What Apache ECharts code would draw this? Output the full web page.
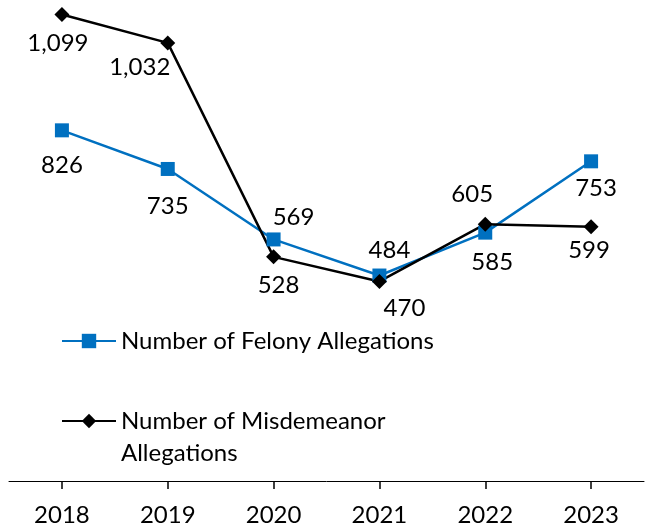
<!DOCTYPE html>
<html>
<head>
<meta charset="UTF-8">
<title></title>
<style>html,body{margin:0;padding:0;background:#fff;}</style>
</head>
<body>
<div id='chart' style="width:654px;height:529px;"></div>
<script src="https://cdn.jsdelivr.net/npm/echarts@6/dist/echarts.min.js"></script>
<script>
var years = ['2018', '2019', '2020', '2021', '2022', '2023'];
var felonyName = 'Number of Felony Allegations';
var misdName = 'Number of Misdemeanor Allegations';
var felony = [826, 735, 569, 484, 585, 753];
var misdemeanor = [1099, 1032, 528, 470, 605, 599];
// label offsets (px) from each marker
var felonyOffsets = [[0, 35], [0, 37], [20, -22], [10, -25], [7, 30], [5, 27]];
var misdOffsets = [[-4, 29], [-28, 24], [5, 28], [25, 27], [-13, -30], [-2, 24]];

var font = 'Lato';

function withLabels(values, offsets) {
	return values.map(function (v, i) {
		return {
			value: v,
			label: { offset: offsets[i] }
		};
	});
}

var chart = echarts.init(document.getElementById('chart'));
var option = {
	animation: false,
	grid: { left: 9, right: 10, top: 0, bottom: 48 },
	legend: [
		{
			data: [felonyName],
			left: 56, top: 320,
			itemWidth: 54, itemHeight: 18,
			textStyle: { fontFamily: font, fontSize: 24, color: '#000', lineHeight: 32 }
		},
		{
			data: [misdName],
			left: 56, top: 368,
			itemWidth: 54, itemHeight: 18,
			formatter: function () { return ' \nNumber of Misdemeanor\nAllegations'; },
			textStyle: { fontFamily: font, fontSize: 24, color: '#000', lineHeight: 32 }
		}
	],
	xAxis: {
		type: 'category',
		data: years,
		boundaryGap: true,
		axisLine: { onZero: false, lineStyle: { color: '#000', width: 1 } },
		axisTick: { show: true, interval: 0, alignWithLabel: true, inside: false, length: 8, lineStyle: { color: '#000', width: 1.5 } },
		axisLabel: { fontFamily: font, fontSize: 24, color: '#000', margin: 22 }
	},
	yAxis: {
		type: 'value',
		min: 0,
		max: 1133,
		axisLine: { show: false },
		axisTick: { show: false },
		axisLabel: { show: false },
		splitLine: { show: false }
	},
	series: [
		{
			name: felonyName,
			type: 'line',
			data: withLabels(felony, felonyOffsets),
			symbol: 'rect',
			symbolSize: 14,
			itemStyle: { color: '#0070C0' },
			lineStyle: { color: '#0070C0', width: 2.5 },
			label: { show: true, position: 'inside', fontFamily: font, fontSize: 24, color: '#000' }
		},
		{
			name: misdName,
			type: 'line',
			data: withLabels(misdemeanor, misdOffsets),
			symbol: 'diamond',
			symbolSize: 15,
			itemStyle: { color: '#000' },
			lineStyle: { color: '#000', width: 2.5 },
			label: {
				show: true, position: 'inside', fontFamily: font, fontSize: 24, color: '#000',
				formatter: function (p) { return p.value.toLocaleString('en-US'); }
			}
		}
	]
};
chart.setOption(option);
</script>
</body>
</html>
